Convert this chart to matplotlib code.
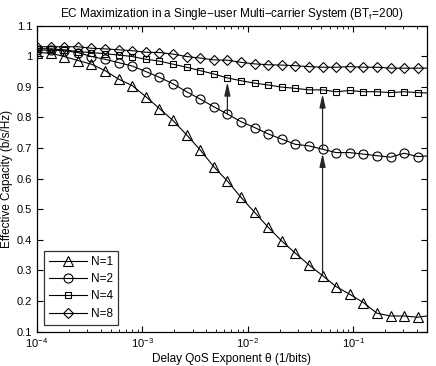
import matplotlib
matplotlib.use("Agg")
import matplotlib.pyplot as plt

plt.rcParams['font.family'] = ['Liberation Sans', 'DejaVu Sans']
plt.rcParams['mathtext.fontset'] = 'custom'
plt.rcParams['mathtext.rm'] = 'Liberation Sans'
plt.rcParams['mathtext.it'] = 'Liberation Sans'

# delay QoS exponent (last point has no marker)
theta = [1.0e-4, 1.346e-4, 1.811e-4, 2.437e-4, 3.28e-4, 4.415e-4, 5.94e-4, 8.0e-4,
         1.076e-3, 1.449e-3, 1.950e-3, 2.624e-3, 3.53e-3, 4.75e-3, 6.40e-3, 8.61e-3,
         1.159e-2, 1.560e-2, 2.10e-2, 2.83e-2, 3.80e-2, 5.12e-2, 6.89e-2, 9.27e-2,
         0.1248, 0.168, 0.226, 0.304, 0.409, 0.5]

ec_n1 = [1.012, 1.010, 0.999, 0.986, 0.974, 0.953, 0.925, 0.904, 0.868, 0.829,
         0.790, 0.743, 0.694, 0.639, 0.592, 0.539, 0.490, 0.441, 0.396, 0.356,
         0.318, 0.283, 0.247, 0.222, 0.195, 0.160, 0.151, 0.151, 0.147, 0.151]
ec_n2 = [1.020, 1.020, 1.018, 1.012, 0.999, 0.990, 0.979, 0.968, 0.950, 0.931,
         0.910, 0.884, 0.860, 0.835, 0.811, 0.786, 0.767, 0.746, 0.729, 0.712,
         0.707, 0.696, 0.685, 0.685, 0.680, 0.675, 0.670, 0.683, 0.672, 0.674]
ec_n4 = [1.025, 1.024, 1.021, 1.015, 1.012, 1.008, 1.004, 0.999, 0.990, 0.984,
         0.974, 0.964, 0.953, 0.942, 0.929, 0.920, 0.912, 0.906, 0.899, 0.895,
         0.890, 0.890, 0.884, 0.888, 0.884, 0.884, 0.881, 0.884, 0.881, 0.880]
ec_n8 = [1.031, 1.031, 1.031, 1.031, 1.026, 1.024, 1.021, 1.018, 1.013, 1.012,
         1.007, 0.999, 0.994, 0.988, 0.987, 0.980, 0.975, 0.972, 0.971, 0.969,
         0.966, 0.964, 0.964, 0.966, 0.964, 0.964, 0.961, 0.961, 0.961, 0.961]

labels = ["N=1", "N=2", "N=4", "N=8"]
markers = ["^", "o", "s", "D"]
msizes = [7, 6.5, 5, 5]

fig = plt.figure(figsize=(4.36, 3.66), dpi=100)
ax = fig.add_axes([0.085, 0.094, 0.894, 0.836])

n_mark = len(theta) - 1
for ys, lab, m, ms in zip([ec_n1, ec_n2, ec_n4, ec_n8], labels, markers, msizes):
    ax.plot(theta, ys, color='black', lw=0.8, marker=m, ms=ms,
            mfc='none', mec='black', mew=0.8, markevery=list(range(n_mark)), label=lab)

# arrows showing the gain of more carriers
for i, lo, hi in [(14, ec_n2, ec_n4), (21, ec_n1, ec_n2), (21, ec_n2, ec_n4)]:
    ax.annotate('', xy=(theta[i], hi[i]), xytext=(theta[i], lo[i]),
                arrowprops=dict(arrowstyle='-|>,head_length=0.8,head_width=0.18',
                                color='0.15', lw=0.9, shrinkA=0, shrinkB=3))

ax.set_xscale('log')
ax.set_xlim(1e-4, 0.5)
ax.set_ylim(0.1, 1.1)
ax.set_yticks([0.1, 0.2, 0.3, 0.4, 0.5, 0.6, 0.7, 0.8, 0.9, 1.0, 1.1])
ax.set_yticklabels(['0.1', '0.2', '0.3', '0.4', '0.5', '0.6', '0.7', '0.8', '0.9', '1', '1.1'])
ax.tick_params(which='both', direction='in', top=True, right=True, labelsize=8)
ax.tick_params(which='major', length=4)
ax.tick_params(which='minor', length=2)
for s in ax.spines.values():
    s.set_linewidth(0.9)

ax.set_title("EC Maximization in a Single\u2212user Multi\u2212carrier System (BT$_f$=200)",
             fontsize=8.5, pad=6)
ax.set_xlabel("Delay QoS Exponent \u03b8 (1/bits)", fontsize=8.5, labelpad=2)
ax.set_ylabel("Effective Capacity (b/s/Hz)", fontsize=8.5, labelpad=3)

leg = ax.legend(loc='lower left', fontsize=8.5, fancybox=False, edgecolor='black',
                handlelength=3.2, borderaxespad=0.6, labelspacing=0.45, handletextpad=0.4)
leg.get_frame().set_linewidth(0.9)

fig.savefig("out.png", dpi=100)
